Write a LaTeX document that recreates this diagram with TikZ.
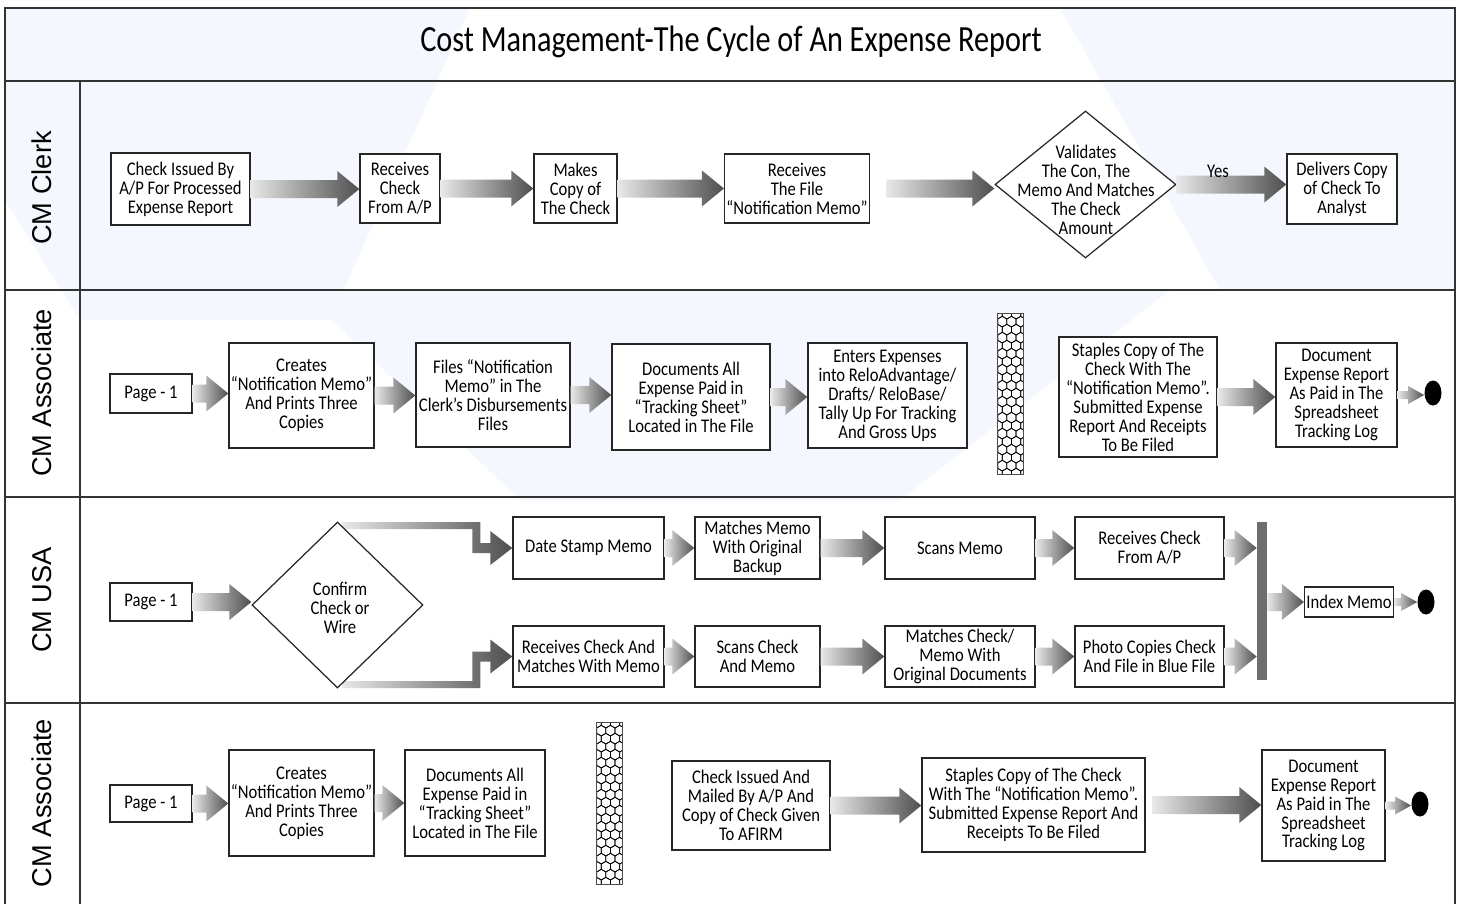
\documentclass[tikz,border=0pt]{standalone}
\usepackage{fontspec}
\setmainfont{Carlito}
\newfontfamily\boxfamily{Carlito}[FakeStretch=0.86]
\newfontfamily\titlefamily{Carlito}[FakeStretch=0.82]
\newfontfamily\lanefamily{Liberation Sans}
\usetikzlibrary{shapes.geometric,calc}

\newcommand{\boxfont}{\boxfamily\fontsize{11}{10.8}\selectfont}
\newdimen\pxu \pxu=0.02cm
\newdimen\arsw \newdimen\arhw \newdimen\arhl

\definecolor{wmblue}{HTML}{F4F7FD}
\definecolor{laneline}{HTML}{333333}
\definecolor{flowlight}{HTML}{E8E8E8}
\definecolor{flowdark}{HTML}{4F4F4F}
\definecolor{bargray}{HTML}{6E6E6E}

% block arrow, tip at x of #2, height of #1
\newcommand{\drawflow}[2]{%
  \shade[left color=flowlight, right color=flowdark] let \p1=(#1), \p2=(#2) in
    (\x1,\y1+\arsw) -- (\x2-\arhl,\y1+\arsw) -- (\x2-\arhl,\y1+\arhw) -- (\x2,\y1)
    -- (\x2-\arhl,\y1-\arhw) -- (\x2-\arhl,\y1-\arsw) -- (\x1,\y1-\arsw) -- cycle;}
\newcommand{\flow}[2]{\arsw=9\pxu \arhw=18\pxu \arhl=22\pxu \drawflow{#1}{#2}}
\newcommand{\flowend}[2]{\arsw=4\pxu \arhw=9\pxu \arhl=16\pxu \drawflow{#1}{#2}}

% elbow arrows out of the decision
\newcommand{\elbowup}[2]{%
  \shade[left color=flowlight, right color=flowdark] let \p1=(#1), \p2=(#2) in
    (\x1,\y1) -- (\x2-32*\pxu,\y1) -- (\x2-32*\pxu,\y2+5*\pxu) -- (\x2-22*\pxu,\y2+5*\pxu)
    -- (\x2-22*\pxu,\y2+17*\pxu) -- (\x2,\y2) -- (\x2-22*\pxu,\y2-17*\pxu)
    -- (\x2-22*\pxu,\y2-5*\pxu) -- (\x2-40*\pxu,\y2-5*\pxu) -- (\x2-40*\pxu,\y1-7*\pxu)
    -- (\x1,\y1-7*\pxu) -- cycle;}
\newcommand{\elbowdown}[2]{%
  \shade[left color=flowlight, right color=flowdark] let \p1=(#1), \p2=(#2) in
    (\x1,\y1) -- (\x2-32*\pxu,\y1) -- (\x2-32*\pxu,\y2-5*\pxu) -- (\x2-22*\pxu,\y2-5*\pxu)
    -- (\x2-22*\pxu,\y2-17*\pxu) -- (\x2,\y2) -- (\x2-22*\pxu,\y2+17*\pxu)
    -- (\x2-22*\pxu,\y2+5*\pxu) -- (\x2-40*\pxu,\y2+5*\pxu) -- (\x2-40*\pxu,\y1+7*\pxu)
    -- (\x1,\y1+7*\pxu) -- cycle;}

% honeycomb strip
\newcommand{\hexstrip}[1]{%
  \begin{scope}
    \clip (#1.south west) rectangle (#1.north east);
    \foreach \r in {0,...,21}
      \foreach \c in {-1,...,3} {
        \pgfmathsetmacro{\hx}{\c*9.2+mod(\r,2)*4.6}
        \pgfmathsetmacro{\hy}{\r*8}
        \draw[line width=0.4pt] ($(#1.north west)+(\hx,\hy)$) +(30:5.3) -- +(90:5.3)
          -- +(150:5.3) -- +(210:5.3) -- +(270:5.3) -- +(330:5.3) -- cycle;
      }
  \end{scope}
  \draw[line width=0.8pt, draw=black!70] (#1.south west) rectangle (#1.north east);}

\begin{document}
\begin{tikzpicture}[x=0.02cm, y=-0.02cm,
  stepbox/.style={draw=black!85, line width=0.8pt, fill=white, align=center,
    inner sep=1pt, font=\boxfont},
  sz/.style 2 args={minimum width=#1*\pxu, minimum height=#2*\pxu},
  decision/.style={diamond, draw=black!85, line width=0.7pt, fill=white, inner sep=0pt},
  boxtext/.style={align=center, inner sep=0pt, font=\boxfont},
  lanetext/.style={rotate=90, font=\lanefamily\fontsize{15.5}{18}\selectfont},
  syncbar/.style={fill=bargray, inner sep=0pt},
  enddot/.style={ellipse, fill=black, inner sep=0pt},
  strip/.style={inner sep=0pt, fill=white}]

\useasboundingbox (0,0) rectangle (1461,903);
\fill[white] (0,0) rectangle (1461,903);

% watermark
\fill[wmblue] (5,8) -- (470,8) -- (330,320) -- (80,320) -- (5,200) -- cycle;
\fill[wmblue] (1060,8) -- (1455,8) -- (1455,290) -- (1220,290) -- cycle;
\fill[wmblue] (300,290) -- (1170,290) -- (900,500) -- (520,500) -- cycle;

% frame and lanes
\draw[laneline, line width=1pt] (5,8) rectangle (1455,906);
\draw[laneline, line width=1pt] (5,81) -- (1455,81);
\foreach \yy in {290,497,703}
  \draw[laneline, line width=1pt] (5,\yy) -- (1455,\yy);
\draw[laneline, line width=1pt] (80,81) -- (80,906);

\node[font=\titlefamily\fontsize{21}{24}\selectfont] (title) at (731,42)
  {Cost Management-The Cycle of An Expense Report};

\node[lanetext] (lane1) at (42,188) {CM Clerk};
\node[lanetext] (lane2) at (42,393) {CM Associate};
\node[lanetext] (lane3) at (42,600) {CM USA};
\node[lanetext] (lane4) at (42,803) {CM Associate};

%CM CLERK
\node[stepbox, sz={139}{72}] (iss) at (180.5,189)
  {Check Issued By\\A/P For Processed\\Expense Report};
\node[stepbox, sz={80}{69}] (rcv) at (400,188.5) {Receives\\Check\\From A/P};
\node[stepbox, sz={83}{69}] (cpy) at (575.5,188.5) {Makes\\Copy of\\The Check};
\node[stepbox, sz={144}{69}] (rfile) at (797,188.5)
  {Receives\\The File\\“Notification Memo”};
\node[decision, sz={181}{147}] (val) at (1085.5,184.5) {};
\node[boxtext] (valtxt) at (1086,190)
  {Validates\\The Con, The\\Memo And Matches\\The Check\\Amount};
\node[stepbox, sz={110}{70}] (dlv) at (1342,189)
  {Delivers Copy\\of Check To\\Analyst};

\flow{iss.east}{rcv.west}
\flow{rcv.east}{cpy.west}
\flow{cpy.east}{rfile.west}
\flow{$(rfile.east)+(16,0)$}{val.west}
\flow{val.east}{dlv.west}
\node[boxtext] (yes) at (1218,171) {Yes};

%CM ASSOCIATE
\node[stepbox, sz={82}{39}] (pg2) at (151,393.5) {Page - 1};
\node[stepbox, sz={145}{105}] (crt2) at (301.5,395.5)
  {Creates\\“Notification Memo”\\And Prints Three\\Copies};
\node[stepbox, sz={154}{104}] (fil2) at (493,395)
  {Files “Notification\\Memo” in The\\Clerk’s Disbursements\\Files};
\node[stepbox, sz={158}{106}] (doc2) at (691,397)
  {Documents All\\Expense Paid in\\“Tracking Sheet”\\Located in The File};
\node[stepbox, sz={159}{105}] (ent2) at (887.5,395.5)
  {Enters Expenses\\into ReloAdvantage/\\Drafts/ ReloBase/\\Tally Up For Tracking\\And Gross Ups};
\node[strip, sz={25}{160}] (brk2) at (1010.5,394) {};
\hexstrip{brk2}
\node[stepbox, sz={158}{120}] (stp2) at (1138,397)
  {Staples Copy of The\\Check With The\\“Notification Memo”.\\Submitted Expense\\Report And Receipts\\To Be Filed};
\node[stepbox, sz={121}{104}] (dep2) at (1336.5,395)
  {Document\\Expense Report\\As Paid in The\\Spreadsheet\\Tracking Log};
\node[enddot, sz={17}{25}] (end2) at (1433,393) {};

\flow{pg2.east}{crt2.west}
\flow{crt2.east}{fil2.west}
\flow{fil2.east}{doc2.west}
\flow{doc2.east}{ent2.west}
\flow{stp2.east}{dep2.west}
\flowend{dep2.east}{end2.west}

%CM USA
\node[stepbox, sz={82}{38}] (pg3) at (151,602) {Page - 1};
\node[stepbox, sz={151}{62}] (dsm) at (588.5,548) {Date Stamp Memo};
\node[stepbox, sz={151}{61}] (rcm) at (588.5,656.5)
  {Receives Check And\\Matches With Memo};
\node[stepbox, sz={125}{62}] (mmo) at (757.5,548)
  {Matches Memo\\With Original\\Backup};
\node[stepbox, sz={125}{61}] (scc) at (757.5,656.5) {Scans Check\\And Memo};
\node[stepbox, sz={150}{62}] (scm) at (960,548) {Scans Memo};
\node[stepbox, sz={150}{61}] (mcm) at (960,656.5)
  {Matches Check/\\Memo With\\Original Documents};
\node[stepbox, sz={149}{62}] (rca) at (1149.5,548) {Receives Check\\From A/P};
\node[stepbox, sz={149}{61}] (pho) at (1149.5,656.5)
  {Photo Copies Check\\And File in Blue File};
\node[syncbar, sz={10}{158}] (join) at (1262,601) {};
\node[stepbox, sz={88}{30}] (idx) at (1349,602) {Index Memo};
\node[enddot, sz={17}{25}] (end3) at (1426,602) {};

\elbowup{342,522}{dsm.west}
\elbowdown{342,688}{rcm.west}
\node[decision, sz={171}{166}] (cfm) at (337.5,605) {};
\node[boxtext] (cfmtxt) at (340,608) {Confirm\\Check or\\Wire};

\flow{pg3.east}{cfm.west}
\flow{dsm.east}{mmo.west}
\flow{mmo.east}{scm.west}
\flow{scm.east}{rca.west}
\flow{rca.east}{join.west}
\flow{rcm.east}{scc.west}
\flow{scc.east}{mcm.west}
\flow{mcm.east}{pho.west}
\flow{pho.east}{join.west}
\flow{join.east |- idx.west}{idx.west}
\flowend{idx.east}{end3.west}

%CM ASSOCIATE
\node[stepbox, sz={82}{37}] (pg4) at (151,803.5) {Page - 1};
\node[stepbox, sz={145}{106}] (crt4) at (301.5,803)
  {Creates\\“Notification Memo”\\And Prints Three\\Copies};
\node[stepbox, sz={140}{106}] (doc4) at (475,803)
  {Documents All\\Expense Paid in\\“Tracking Sheet”\\Located in The File};
\node[strip, sz={25}{161}] (brk4) at (609.5,803.5) {};
\hexstrip{brk4}
\node[stepbox, sz={158}{89}] (chk4) at (751,805.5)
  {Check Issued And\\Mailed By A/P And\\Copy of Check Given\\To AFIRM};
\node[stepbox, sz={223}{94}] (stp4) at (1033.5,805)
  {Staples Copy of The Check\\With The “Notification Memo”.\\Submitted Expense Report And\\Receipts To Be Filed};
\node[stepbox, sz={123}{111}] (dep4) at (1323.5,805.5)
  {Document\\Expense Report\\As Paid in The\\Spreadsheet\\Tracking Log};
\node[enddot, sz={17}{25}] (end4) at (1420,804) {};

\flow{pg4.east}{crt4.west}
\flow{crt4.east}{doc4.west}
\flow{chk4.east}{stp4.west}
\flow{$(stp4.east)+(7,0)$}{dep4.west}
\flowend{dep4.east}{end4.west}
\end{tikzpicture}
\end{document}
